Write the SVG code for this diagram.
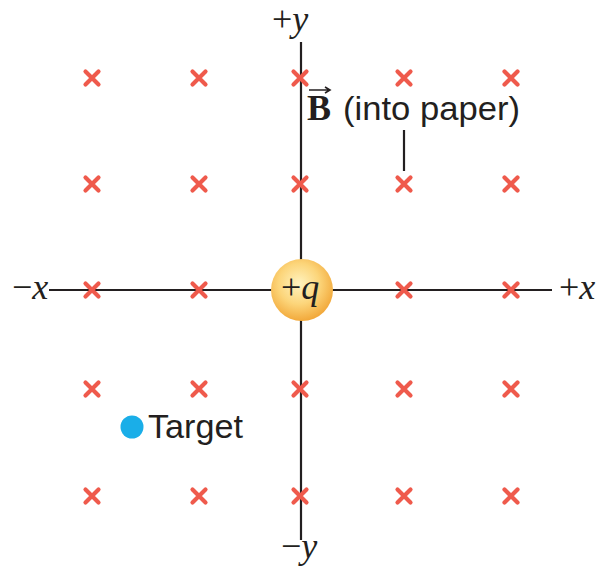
<svg xmlns="http://www.w3.org/2000/svg" width="605" height="571" viewBox="0 0 605 571">
<defs>
<radialGradient id="qg" cx="0.45" cy="0.4" r="0.6">
<stop offset="0" stop-color="#fff3c0"/>
<stop offset="0.55" stop-color="#fcd57a"/>
<stop offset="1" stop-color="#f2a93b"/>
</radialGradient>
<path id="xm" d="M-6.5,-6.5 L6.5,6.5 M-6.5,6.5 L6.5,-6.5" stroke="#ef5a4c" stroke-width="4.2" stroke-linecap="round" fill="none"/>
</defs>
<style>
.ax{stroke:#231f20;stroke-width:2.2;fill:none}
.lbl{font-family:"Liberation Serif",serif;font-size:36px;fill:#231f20}
.it{font-style:italic}
.sans{font-family:"Liberation Sans","DejaVu Sans",sans-serif;font-size:33px;fill:#231f20}
</style>
<g id="connectors">
<line class="ax" x1="49" y1="290" x2="552" y2="290"/>
<line class="ax" x1="301" y1="42" x2="301" y2="540"/>
<line class="ax" x1="404" y1="130" x2="404" y2="171" stroke-width="2"/>
</g>
<g id="field">
<use href="#xm" x="92" y="78"/><use href="#xm" x="199" y="78"/><use href="#xm" x="300" y="78"/><use href="#xm" x="404" y="78"/><use href="#xm" x="511" y="78"/>
<use href="#xm" x="92" y="184"/><use href="#xm" x="199" y="184"/><use href="#xm" x="300" y="184"/><use href="#xm" x="404" y="184"/><use href="#xm" x="511" y="184"/>
<use href="#xm" x="92" y="290"/><use href="#xm" x="199" y="290"/><use href="#xm" x="404" y="290"/><use href="#xm" x="511" y="290"/>
<use href="#xm" x="92" y="389"/><use href="#xm" x="199" y="389"/><use href="#xm" x="300" y="389"/><use href="#xm" x="404" y="389"/><use href="#xm" x="511" y="389"/>
<use href="#xm" x="92" y="496"/><use href="#xm" x="199" y="496"/><use href="#xm" x="300" y="496"/><use href="#xm" x="404" y="496"/><use href="#xm" x="511" y="496"/>
</g>
<g id="charge">
<circle cx="302" cy="290" r="31" fill="url(#qg)"/>
<text class="lbl" x="281" y="299" font-size="38">+<tspan class="it">q</tspan></text>
</g>
<g id="axis-labels">
<text class="lbl" x="272" y="31" font-size="34">+<tspan class="it">y</tspan></text>
<text class="lbl" x="281" y="558">−<tspan class="it">y</tspan></text>
<text class="lbl" x="12" y="299">−<tspan class="it">x</tspan></text>
<text class="lbl" x="559" y="299">+<tspan class="it">x</tspan></text>
</g>
<g id="B-label">
<text class="lbl" x="307" y="120" font-weight="bold" font-size="34">B</text>
<path d="M309,90 L329,90 M325,87 L330,90 L325,93" stroke="#231f20" stroke-width="1.6" fill="none"/>
<text class="sans" x="343" y="120" textLength="177" lengthAdjust="spacingAndGlyphs">(into paper)</text>
</g>
<g id="target">
<circle cx="132" cy="427" r="11.5" fill="#1aaee8"/>
<text class="sans" x="148" y="438" textLength="95" lengthAdjust="spacingAndGlyphs">Target</text>
</g>
</svg>
